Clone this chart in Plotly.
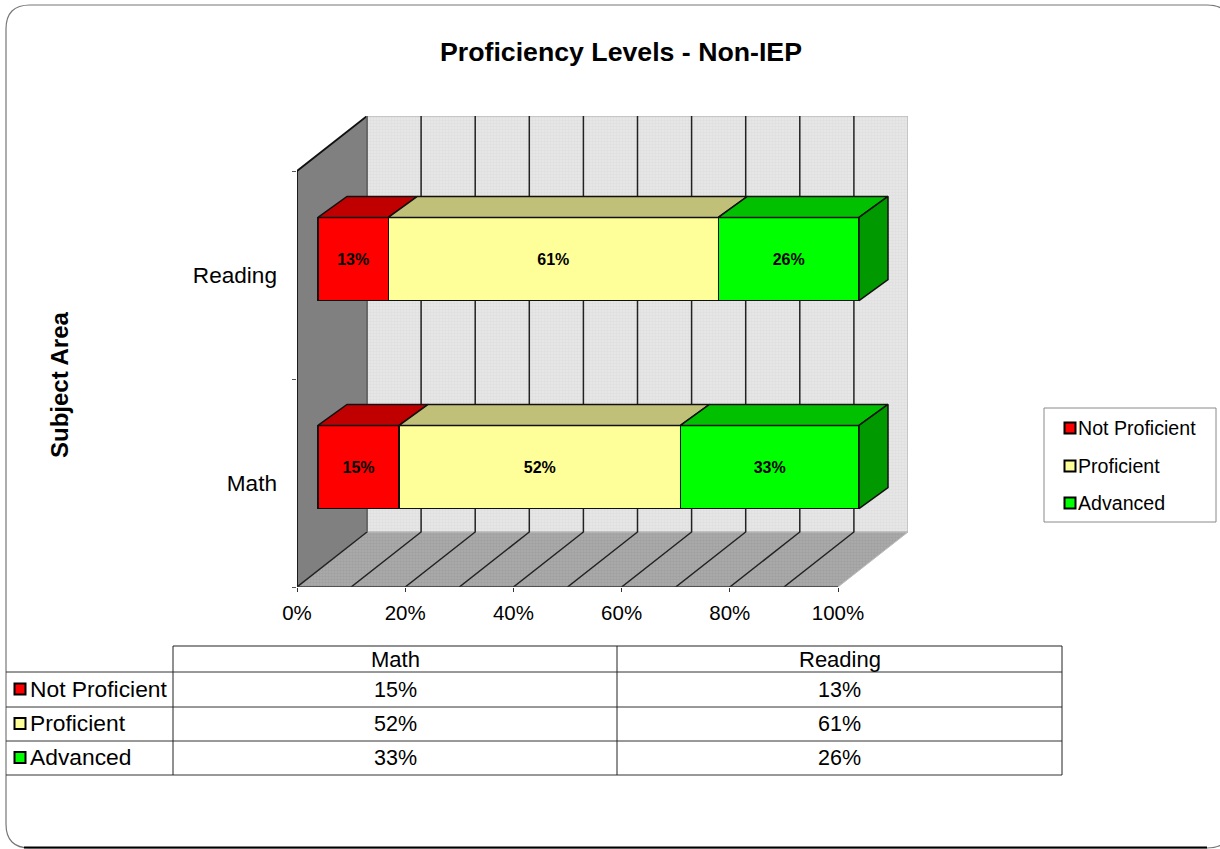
import plotly.graph_objects as go

W, H = 1220, 849
categories = ["Math", "Reading"]
series_names = ["Not Proficient", "Proficient", "Advanced"]
not_proficient = [15, 13]
proficient = [52, 61]
advanced = [33, 26]
series_values = [not_proficient, proficient, advanced]
front_colors = ["#FF0000", "#FFFF99", "#00FF00"]
top_colors = ["#C00000", "#C0C078", "#00C000"]
side_color = "#009900"
x_ticks = [0, 20, 40, 60, 80, 100]
x_grid = [0, 10, 20, 30, 40, 50, 60, 70, 80, 90, 100]
FONT = "Liberation Sans"
INK = "#000000"

# Pixel layout of the pseudo-3D box
X0, X100 = 297, 838
PX_PER_PCT = (X100 - X0) / 100
Y_BOTTOM, Y_TOP = 587, 171
PX_PER_CAT = (Y_BOTTOM - Y_TOP) / 2
WALL_DX, WALL_DY = 70 / PX_PER_PCT, 55 / PX_PER_CAT      # back wall depth, in data units
SHIFT_X, SHIFT_Y = 21 / PX_PER_PCT, 16 / PX_PER_CAT      # bar plane offset, in data units
BAR_DX, BAR_DY = 29 / PX_PER_PCT, 21 / PX_PER_CAT        # bar depth, in data units
XMAX = 100 + WALL_DX
YMIN, YMAX = -0.5, 1.5 + WALL_DY
BAR_WIDTH = 0.4


def fx(px):
    return px / W


def fy(py):
    return 1 - py / H


right_px = X0 + XMAX * PX_PER_PCT
top_px = Y_BOTTOM - (YMAX - YMIN) * PX_PER_CAT

fig = go.Figure()


def poly(xs, ys, fill, line_color, width=0, pattern=None):
    kw = {}
    if pattern:
        kw["fillpattern"] = pattern
    fig.add_trace(go.Scatter(x=xs, y=ys, mode="lines", fill="toself", fillcolor=fill,
                             line=dict(color=line_color, width=width), hoverinfo="skip",
                             showlegend=False, xaxis="x", yaxis="y", **kw))


def line(xs, ys, color="#1a1a1a", width=1.6, xa="x", ya="y"):
    fig.add_trace(go.Scatter(x=xs, y=ys, mode="lines", line=dict(color=color, width=width),
                             hoverinfo="skip", showlegend=False, xaxis=xa, yaxis=ya))


# Back wall
poly([WALL_DX, XMAX, XMAX, WALL_DX, WALL_DX], [YMIN + WALL_DY, YMIN + WALL_DY, YMAX, YMAX, YMIN + WALL_DY],
     "#E4E4E4", "#BDBDBD", 1.5,
     dict(shape=".", size=3, solidity=0.5, fgcolor="#D6D6D6", bgcolor="#E8E8E8"))
# Floor
poly([0, 100, XMAX, WALL_DX, 0], [YMIN, YMIN, YMIN + WALL_DY, YMIN + WALL_DY, YMIN],
     "#A2A2A2", "#BDBDBD", 1,
     dict(shape=".", size=3, solidity=0.5, fgcolor="#969696", bgcolor="#ABABAB"))
# Left wall
poly([0, WALL_DX, WALL_DX, 0, 0], [YMIN, YMIN + WALL_DY, YMAX, YMAX - WALL_DY, YMIN], "#808080", "#808080", 0)

# Grid lines on wall and floor
for v in x_grid:
    if v < 100:
        line([v, v + WALL_DX, v + WALL_DX], [YMIN, YMIN + WALL_DY, YMAX], color="#222222", width=1.5)
# Frame lines of the box
line([0, 0, WALL_DX], [YMIN, YMAX - WALL_DY, YMAX], color="#111111", width=1.8)
line([0, 100], [YMIN, YMIN], color="#333333", width=1.5)
line([WALL_DX, WALL_DX], [YMIN + WALL_DY, YMAX], color="#777777", width=1.5)

# Bars on an overlay axis pair whose ranges are shifted to the bar plane
for name, vals, col in zip(series_names, series_values, front_colors):
    fig.add_trace(go.Bar(
        y=[0, 1], x=vals, name=name, orientation="h", width=BAR_WIDTH,
        marker=dict(color=col, line=dict(color="#111111", width=1.5)),
        text=[f"{v}%" for v in vals], textposition="inside", insidetextanchor="middle",
        textangle=0, constraintext="none",
        textfont=dict(family=FONT, size=16, color=INK, weight="bold"),
        xaxis="x2", yaxis="y2", showlegend=False,
    ))

# Top faces and end face of each bar, from cumulative values
for cat_i in range(len(categories)):
    start = 0
    top = cat_i + BAR_WIDTH / 2
    bottom = cat_i - BAR_WIDTH / 2
    for ser_i, vals in enumerate(series_values):
        end = start + vals[cat_i]
        fig.add_trace(go.Scatter(
            x=[start, end, end + BAR_DX, start + BAR_DX, start],
            y=[top, top, top + BAR_DY, top + BAR_DY, top],
            mode="lines", fill="toself", fillcolor=top_colors[ser_i],
            line=dict(color="#111111", width=1.5), hoverinfo="skip", showlegend=False,
            xaxis="x2", yaxis="y2"))
        start = end
    fig.add_trace(go.Scatter(
        x=[start, start + BAR_DX, start + BAR_DX, start, start],
        y=[top, top + BAR_DY, bottom + BAR_DY, bottom, top],
        mode="lines", fill="toself", fillcolor=side_color,
        line=dict(color="#111111", width=1.5), hoverinfo="skip", showlegend=False,
        xaxis="x2", yaxis="y2"))

shapes = []
annotations = []


def rect(x0, y0, x1, y1, fill="rgba(0,0,0,0)", color="#000", width=1):
    shapes.append(dict(type="rect", xref="paper", yref="paper", x0=fx(x0), x1=fx(x1), y0=fy(y0), y1=fy(y1),
                       fillcolor=fill, line=dict(color=color, width=width), layer="above"))


def seg(x0, y0, x1, y1, color="#222", width=1):
    shapes.append(dict(type="line", xref="paper", yref="paper", x0=fx(x0), x1=fx(x1), y0=fy(y0), y1=fy(y1),
                       line=dict(color=color, width=width), layer="above"))


def label(x, y, text, size, anchor="left", bold=False, angle=0):
    annotations.append(dict(xref="paper", yref="paper", x=fx(x), y=fy(y), text=text, showarrow=False,
                            xanchor=anchor, yanchor="middle", textangle=angle,
                            font=dict(family=FONT, size=size, color=INK, weight="bold" if bold else "normal")))


# Rounded outer frame (runs off the right edge)
L, T, R, B, RAD = 6, 5, 1231, 848, 24
frame = (f"M {fx(L)},{fy(T + RAD)} Q {fx(L)},{fy(T)} {fx(L + RAD)},{fy(T)} "
         f"L {fx(R - RAD)},{fy(T)} Q {fx(R)},{fy(T)} {fx(R)},{fy(T + RAD)} "
         f"L {fx(R)},{fy(B - RAD)} Q {fx(R)},{fy(B)} {fx(R - RAD)},{fy(B)} "
         f"L {fx(L + RAD)},{fy(B)} Q {fx(L)},{fy(B)} {fx(L)},{fy(B - RAD)} Z")
shapes.append(dict(type="path", xref="paper", yref="paper", path=frame, line=dict(color="#777777", width=1.2),
                   fillcolor="rgba(0,0,0,0)", layer="below"))
seg(L + RAD - 6, B - 0.5, R - RAD, B - 0.5, color="#000000", width=2)

# Legend box
rect(1044, 408, 1216, 522, fill="#FFFFFF", color="#8A8A8A", width=1)
for name, col, y in zip(series_names, front_colors, [428, 466, 503]):
    rect(1064.5, y - 5.5, 1075.5, y + 5.5, fill=col, color="#000000", width=2)
    label(1075.5, y, name, 19.6)

# Data table
t_left, t_c0, t_c1, t_c2 = 6, 173, 617, 1062
t_rows = [646, 672, 707, 741, 775]
seg(t_c0, t_rows[0], t_c2, t_rows[0], color="#222222")
for y in t_rows[1:]:
    seg(t_left, y, t_c2, y, color="#333333")
for x in (t_c0, t_c1, t_c2):
    seg(x, t_rows[0], x, t_rows[-1], color="#222222")
label((t_c0 + t_c1) / 2 + 0.5, 659, categories[0], 22, anchor="center")
label((t_c1 + t_c2) / 2, 659, categories[1], 22, anchor="center")
for i, (name, col) in enumerate(zip(series_names, front_colors)):
    cy = (t_rows[i + 1] + t_rows[i + 2]) / 2
    rect(14.5, cy - 6, 25.5, cy + 5, fill=col, color="#000000", width=2)
    label(28, cy - 1, name, 22.8)
    label((t_c0 + t_c1) / 2 + 0.5, cy, f"{series_values[i][0]}%", 21.5, anchor="center")
    label((t_c1 + t_c2) / 2, cy, f"{series_values[i][1]}%", 21.5, anchor="center")

label(59, 385, "Subject Area", 24, anchor="center", bold=True, angle=-90)

fig.update_layout(
    width=W, height=H, margin=dict(l=0, r=0, t=0, b=0, autoexpand=False),
    paper_bgcolor="#FFFFFF", plot_bgcolor="rgba(0,0,0,0)",
    barmode="stack", showlegend=False,
    title=dict(text="Proficiency Levels - Non-IEP", x=621 / W, y=fy(52), xref="paper", yref="paper",
               xanchor="center", yanchor="middle",
               font=dict(family=FONT, size=26.7, color=INK, weight="bold")),
    xaxis=dict(domain=[fx(X0), fx(right_px)], range=[0, XMAX], tickvals=x_ticks,
               ticktext=[f"{v}%" for v in x_ticks], ticks="outside", ticklen=4, tickcolor="#333333",
               tickwidth=1, showgrid=False, zeroline=False, showline=False, anchor="y",
               ticklabelstandoff=3,
               tickfont=dict(family=FONT, size=20.5, color=INK), automargin=False),
    yaxis=dict(domain=[fy(Y_BOTTOM), fy(top_px)], range=[YMIN, YMAX], tickvals=[0, 1], ticktext=categories,
               ticks="", showgrid=False, zeroline=False, showline=False, anchor="x",
               ticklabelstandoff=19, automargin=False,
               minor=dict(tickvals=[-0.5, 0.5, 1.5], ticks="outside", ticklen=4, tickcolor="#555555",
                          tickwidth=1, showgrid=False),
               tickfont=dict(family=FONT, size=22.6, color=INK)),
    xaxis2=dict(range=[-SHIFT_X, XMAX - SHIFT_X], overlaying="x", visible=False, anchor="y2"),
    yaxis2=dict(range=[YMIN - SHIFT_Y, YMAX - SHIFT_Y], overlaying="y", visible=False, anchor="x2"),
    shapes=shapes, annotations=annotations,
)

fig.write_html("out.html", config={"displayModeBar": False},
               post_script="document.body.style.margin='0';document.body.style.overflow='hidden';")
